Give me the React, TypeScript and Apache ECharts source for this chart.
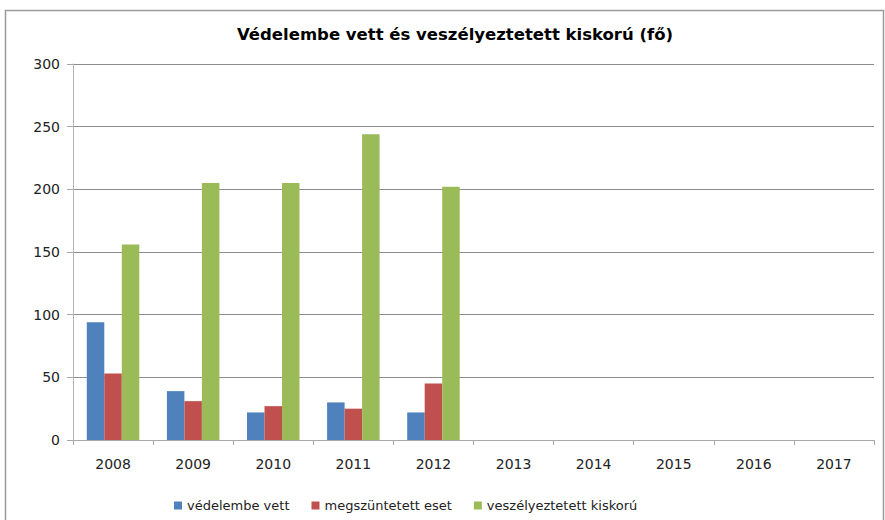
import React, { useEffect, useRef } from "react";
import * as echarts from "echarts";

const years = ["2008", "2009", "2010", "2011", "2012", "2013", "2014", "2015", "2016", "2017"];
const vedelembeVett = [94, 39, 22, 30, 22, null, null, null, null, null];
const megszuntetett = [53, 31, 27, 25, 45, null, null, null, null, null];
const veszelyeztetett = [156, 205, 205, 244, 202, null, null, null, null, null];
const seriesNames = ["védelembe vett", "megszüntetett eset", "veszélyeztetett kiskorú"];
const colors = ["#4F81BD", "#C0504D", "#9BBB59"];

export default function App() {
  const ref = useRef<HTMLDivElement>(null);
  useEffect(() => {
    document.body.style.margin = "0";
    if (!ref.current) return;
    const chart = echarts.init(ref.current, null, { renderer: "svg" });
    const font = "'DejaVu Sans', sans-serif";
    chart.setOption({
      animation: false,
      textStyle: { fontFamily: font },
      title: {
        text: "Védelembe vett és veszélyeztetett kiskorú (fő)",
        left: 232,
        top: 21,
        textStyle: { fontSize: 16.5, fontWeight: "bold", color: "#000", fontFamily: font },
      },
      graphic: [
        {
          type: "rect",
          shape: { x: 5.5, y: 10.5, width: 878, height: 520 },
          style: { fill: "none", stroke: "#9a9a9a", lineWidth: 1.5 },
          silent: true,
        },
      ],
      legend: {
        top: 494,
        left: 169,
        itemWidth: 8,
        itemHeight: 8,
        itemGap: 22,
        icon: "rect",
        textStyle: { fontSize: 13, color: "#222", fontFamily: font },
        data: seriesNames,
      },
      grid: { left: 73, right: 11, top: 64, bottom: 80, containLabel: false },
      xAxis: {
        type: "category",
        data: years,
        axisLine: { lineStyle: { color: "#a8a8a8" } },
        axisTick: { show: true, alignWithLabel: false, length: 5, lineStyle: { color: "#a8a8a8" } },
        axisLabel: { fontSize: 14, color: "#222", margin: 17 },
      },
      yAxis: {
        type: "value",
        min: 0,
        max: 300,
        interval: 50,
        axisLine: { show: true, lineStyle: { color: "#b4b4b4" } },
        axisTick: { show: true, length: 6, lineStyle: { color: "#a8a8a8" } },
        axisLabel: { fontSize: 14, color: "#222", margin: 13 },
        splitLine: { lineStyle: { color: "#8c8c8c" } },
      },
      series: [vedelembeVett, megszuntetett, veszelyeztetett].map((d, i) => ({
        name: seriesNames[i],
        type: "bar",
        data: d,
        barWidth: 17.5,
        barGap: "0%",
        itemStyle: { color: colors[i] },
      })),
    });
    return () => chart.dispose();
  }, []);
  return <div ref={ref} style={{ width: 885, height: 520 }} />;
}
